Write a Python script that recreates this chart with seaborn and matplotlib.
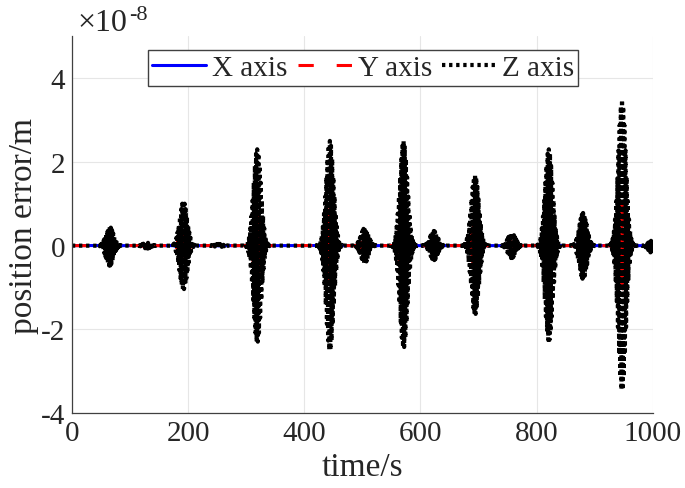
"""Position error of the three axes over time (bursty oscillation)."""

import numpy as np
import pandas as pd
import matplotlib
matplotlib.use("Agg")
import matplotlib.pyplot as plt
import seaborn as sns

# burst centres (s) and peak / trough of the Z error (x 1e-8 m)
burst_time = [65, 129, 192, 253, 319, 444, 504, 571, 623, 694, 757, 821, 880, 947, 999]
z_peak = [0.45, 0.07, 1.05, 0.04, 2.3, 2.5, 0.42, 2.5, 0.35, 1.7, 0.3, 2.3, 0.78, 3.48, 0.12]
z_trough = [-0.48, -0.07, -1.05, -0.04, -2.32, -2.52, -0.42, -2.45, -0.35, -1.65, -0.3, -2.28, -0.8, -3.48, -0.18]
# share of the Z amplitude seen on the Y and X axes
y_share = [0.3, 0.3, 0.3, 0.3, 0.35, 0.35, 0.3, 0.3, 0.3, 0.3, 0.3, 0.3, 0.3, 0.3, 0.3]
x_share = [0.12, 0.12, 0.12, 0.12, 0.1, 0.1, 0.12, 0.12, 0.12, 0.12, 0.12, 0.12, 0.12, 0.1, 0.12]
burst_width = 6.5      # s, spread of each burst

x_ticks = [0, 200, 400, 600, 800, 1000]
y_ticks = [-4, -2, 0, 2, 4]

# one sample per second, sign flips every sample
t = np.arange(0, 1001, 1.0)
carrier = np.where(t.astype(int) % 2 == 0, 1.0, -1.0)
z = np.zeros_like(t)
y = np.zeros_like(t)
x = np.zeros_like(t)
for tc, hi, lo, ys, xs in zip(burst_time, z_peak, z_trough, y_share, x_share):
    env = np.exp(-0.5 * ((t - tc) / burst_width) ** 2)
    sgn = carrier * (1 if tc % 2 == 0 else -1)
    amp = np.where(sgn > 0, hi, -lo)
    z += env * amp * sgn
    y += env * amp * sgn * ys
    x += env * amp * sgn * xs

df = pd.DataFrame({"t": t, "X": x, "Y": y, "Z": z})

sns.set_style("whitegrid")
plt.rcParams["font.family"] = ["Liberation Serif", "DejaVu Serif"]
plt.rcParams["axes.unicode_minus"] = False

fig = plt.figure(figsize=(6.85, 4.89), dpi=100)
ax = fig.add_axes([0.105, 0.153, 0.848, 0.771])

sns.lineplot(data=df, x="t", y="X", ax=ax, color="#0000ff", lw=2.2,
             estimator=None, label="X axis")
sns.lineplot(data=df, x="t", y="Y", ax=ax, color="#ff0000", lw=2.2,
             estimator=None, label="Y axis")
ax.lines[-1].set_dashes([5, 7.5])
sns.lineplot(data=df, x="t", y="Z", ax=ax, color="black", lw=3.0,
             estimator=None, label="Z axis")
ax.lines[-1].set_dashes([0.8, 0.9])

ax.set_xlim(0, 1000)
ax.set_ylim(-4, 5)
ax.set_xticks(x_ticks)
ax.set_yticks(y_ticks)
ax.grid(True, color="#e6e6e6", lw=0.8)
for side in ["top", "right"]:
    ax.spines[side].set_visible(False)
for side in ["left", "bottom"]:
    ax.spines[side].set_color("#404040")
    ax.spines[side].set_linewidth(0.9)
ax.tick_params(direction="in", length=4, width=0.8, color="#404040",
               labelsize=21, labelcolor="#262626", pad=5)

ax.set_xlabel("time/s", fontsize=24, color="#262626", labelpad=4)
ax.set_ylabel("position error/m", fontsize=24, color="#262626", labelpad=1)
fig.text(77 / 685, 1 - 31 / 489, "\u00d710", fontsize=23, color="#262626")
fig.text(129 / 685, 1 - 20 / 489, "-8", fontsize=16, color="#262626")

leg = ax.legend(loc="upper left", bbox_to_anchor=(0.131, 0.962), ncol=3,
                fontsize=21, frameon=True, fancybox=False, handlelength=1.85,
                handletextpad=0.2, columnspacing=0.35, borderpad=0.15,
                borderaxespad=0.0)
leg.get_frame().set_edgecolor("#404040")
leg.get_frame().set_linewidth(1.0)
leg.get_frame().set_alpha(1)

fig.savefig("out.png", dpi=100)
